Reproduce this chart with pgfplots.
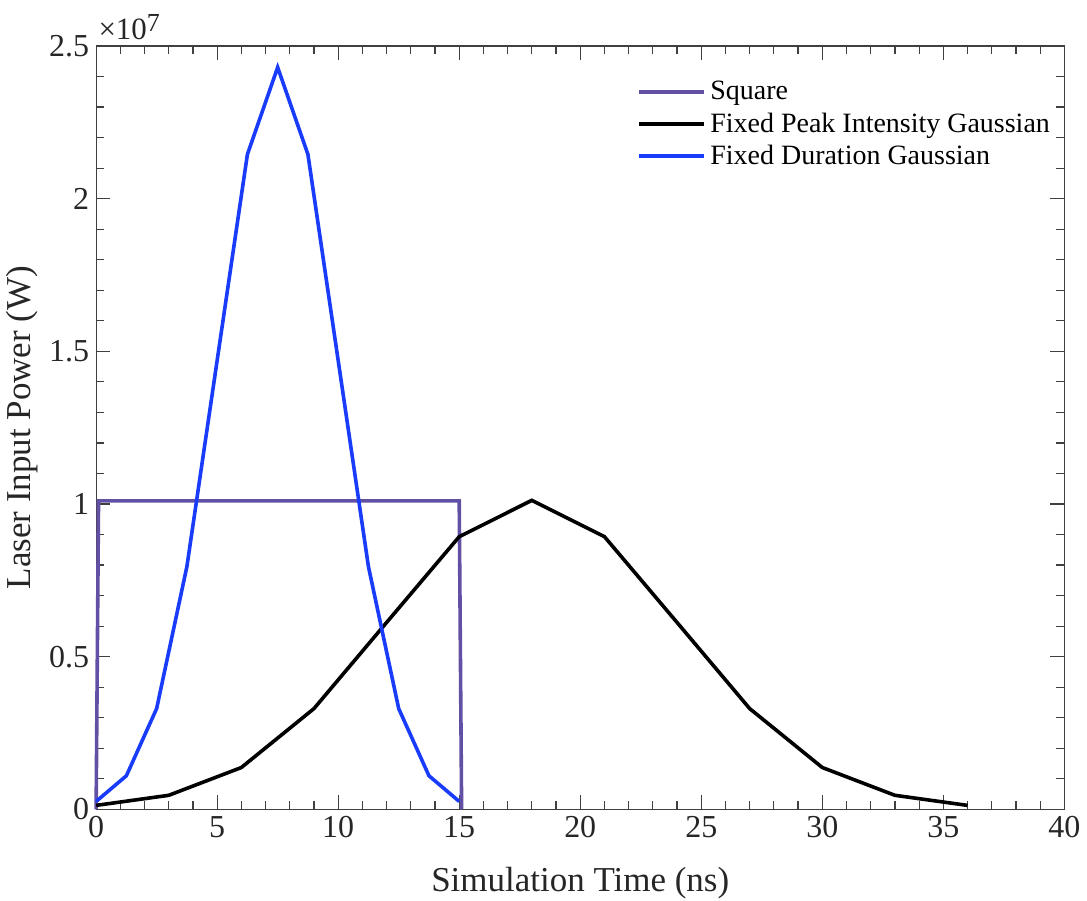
\documentclass[border=0pt]{standalone}
\usepackage{pgfplots}
\pgfplotsset{compat=1.18}
\usepackage{fontspec}
\setmainfont{Liberation Serif}
\newfontfamily\tnr{Liberation Serif}
\definecolor{sqpurple}{RGB}{98,80,165}
\definecolor{gblue}{RGB}{25,60,250}
\begin{document}
\begin{tikzpicture}
\begin{axis}[
  scale only axis,
  width=484.5pt, height=382pt,
  xmin=0, xmax=40, ymin=0, ymax=2.5e7,
  xtick={0,5,...,40},
  xticklabels={0,5,10,15,20,25,30,35,40},
  ytick={0,0.5e7,1e7,1.5e7,2e7,2.5e7},
  yticklabels={0,0.5,1,1.5,2,2.5},
  scaled y ticks=false,
  minor x tick num=4,
  minor y tick num=4,
  tick align=inside,
  major tick length=7pt,
  minor tick length=4pt,
  axis line style={draw=black!75, line width=0.6pt},
  every tick/.style={black!75, line width=0.6pt},
  yticklabel style={font=\tnr\fontsize{16}{18}\selectfont, text=black!85},
  xticklabel style={font=\tnr\fontsize{16}{18}\selectfont, text=black!85},
  xlabel={Simulation Time (ns)},
  ylabel={Laser Input Power (W)},
  label style={font=\tnr\fontsize{17.5}{20}\selectfont, text=black!85},
  xlabel style={yshift=-10pt, inner sep=1pt},
  ylabel style={yshift=-1.5pt},
  legend style={draw=none, fill=none, at={(0.552,0.965)}, anchor=north west, font=\tnr\fontsize{14}{16}\selectfont, row sep=1pt},
  legend cell align=left,
  legend image code/.code={\draw[#1, line width=2pt] (0cm,0cm) -- (1.15cm,0cm);},
  clip=false,
]
\path (rel axis cs:0,1) ++(0,23pt);
\node[anchor=south west, inner sep=0pt, xshift=1pt, yshift=3pt, font=\tnr\fontsize{15.5}{18}\selectfont, text=black!85] at (rel axis cs:0,1) {×10\raisebox{4pt}{\fontsize{13}{14}\selectfont 7}};
\addplot[sqpurple, line width=1.8pt] coordinates {
 (0,0) (0.1,1.01e7) (15,1.01e7) (15.1,0)
};
\addlegendentry{Square}
\addplot[black, line width=1.8pt] coordinates {
 (0,0.013e7) (3,0.046e7) (6,0.137e7) (9,0.33e7) (12,0.612e7) (15,0.893e7) (18,1.012e7) (21,0.893e7) (24,0.612e7) (27,0.33e7) (30,0.137e7) (33,0.046e7) (36,0.013e7)
};
\addlegendentry{Fixed Peak Intensity Gaussian}
\addplot[gblue, line width=1.8pt] coordinates {
 (0,0.026e7) (1.25,0.11e7) (2.5,0.33e7) (3.75,0.795e7) (6.25,2.145e7) (7.5,2.43e7) (8.75,2.145e7) (11.25,0.795e7) (12.5,0.33e7) (13.75,0.11e7) (15,0.026e7)
};
\addlegendentry{Fixed Duration Gaussian}
\end{axis}
\end{tikzpicture}
\end{document}
